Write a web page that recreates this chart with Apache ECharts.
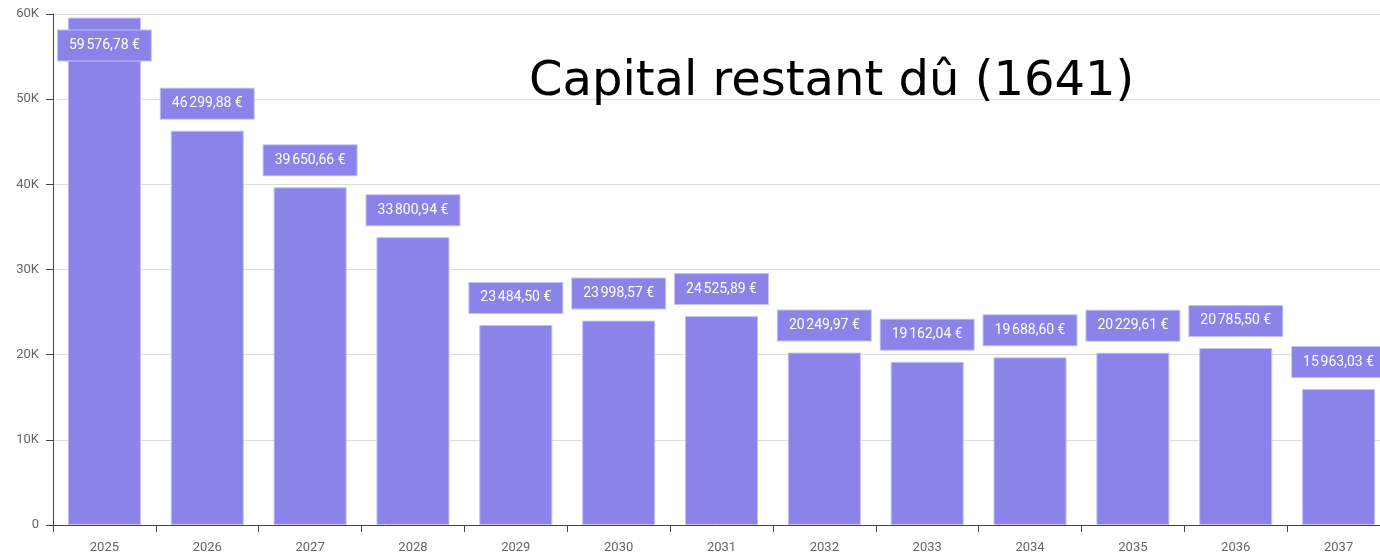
<!DOCTYPE html>
<html>
<head>
<meta charset="utf-8">
<script src="https://cdn.jsdelivr.net/npm/echarts@6/dist/echarts.min.js"></script>
<style>
  html, body { margin: 0; padding: 0; background: #fff; }
  #chartBox { width: 1380px; height: 556px; }
</style>
</head>
<body>
<div id="chartBox"></div>
<script>
  // données
  var years = ['2025', '2026', '2027', '2028', '2029', '2030', '2031', '2032', '2033', '2034', '2035', '2036', '2037'];
  var capital = [59576.78, 46299.88, 39650.66, 33800.94, 23484.50, 23998.57, 24525.89, 20249.97, 19162.04, 19688.60, 20229.61, 20785.50, 15963.03];
  var yTicks = [0, 10000, 20000, 30000, 40000, 50000, 60000];

  var barColor = '#8a84e8';

  // format "59 576,78 €"
  function euro(v) {
    var parts = v.toFixed(2).split('.');
    var ent = parts[0].replace(/\B(?=(\d{3})+(?!\d))/g, '\u202f');
    return ent + ',' + parts[1] + ' \u20ac';
  }

  var maxVal = yTicks[yTicks.length - 1];
  var barData = capital.map(function (v) {
    var item = { value: v };
    // étiquette trop haute -> dans la barre
    if (v > maxVal * 0.95) {
      item.label = { position: 'insideTop', distance: 13 };
    }
    return item;
  });

  var chart = echarts.init(document.getElementById('chartBox'));

  var option = {
    animation: false,
    title: {
      text: 'Capital restant dû (1641)',
      left: 524,
      top: 54,
      textStyle: {
        fontFamily: 'DejaVu Sans',
        fontSize: 48,
        fontWeight: 'normal',
        color: '#000'
      }
    },
    // la dernière catégorie déborde un peu à droite
    grid: { left: 53, width: 1337, top: 14, bottom: 31, outerBoundsMode: 'none' },
    xAxis: {
      type: 'category',
      data: years,
      axisLine: { lineStyle: { color: '#444' } },
      axisTick: { show: true, length: 7, alignWithLabel: false, lineStyle: { color: '#444' } },
      axisLabel: { color: '#666', fontSize: 13, fontFamily: 'Roboto', margin: 16 }
    },
    yAxis: {
      type: 'value',
      min: yTicks[0],
      max: maxVal,
      interval: yTicks[1] - yTicks[0],
      axisLine: { show: true, lineStyle: { color: '#444' } },
      axisTick: { show: true, length: 7, lineStyle: { color: '#444' } },
      splitLine: { lineStyle: { color: '#dcdcdc' } },
      axisLabel: {
        color: '#666',
        fontSize: 13,
        fontFamily: 'Roboto',
        margin: 14,
        formatter: function (v) { return v === 0 ? '0' : (v / 1000) + 'K'; }
      }
    },
    series: [{
      type: 'bar',
      data: barData,
      barCategoryGap: '29%',
      itemStyle: { color: barColor, borderColor: '#c4c0f5', borderWidth: 1 },
      label: {
        show: true,
        position: 'top',
        distance: 12,
        color: '#fff',
        fontSize: 14,
        lineHeight: 14,
        fontFamily: 'Roboto',
        backgroundColor: barColor,
        borderColor: '#c4c0f5',
        borderWidth: 1,
        padding: [8, 11],
        formatter: function (p) { return euro(p.value); }
      }
    }]
  };

  chart.setOption(option);
</script>
</body>
</html>
